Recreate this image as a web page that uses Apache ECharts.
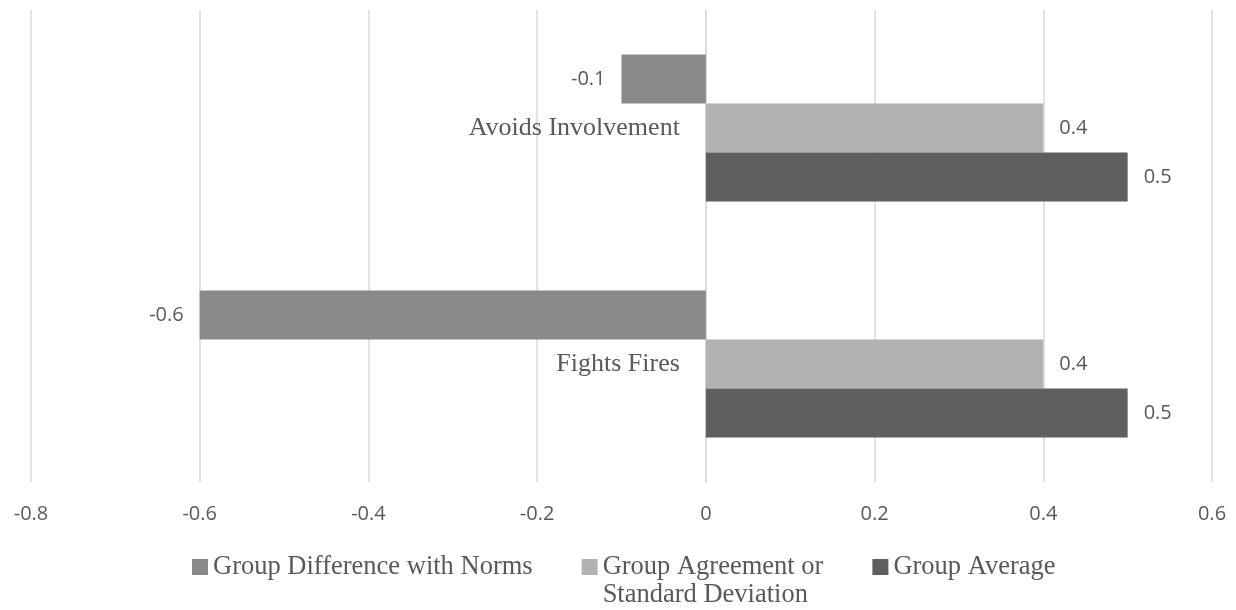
<!DOCTYPE html>
<html>
<head>
<meta charset="utf-8">
<script src="https://cdn.jsdelivr.net/npm/echarts@6/dist/echarts.min.js"></script>
<style>
  html, body { margin: 0; padding: 0; background: #ffffff; }
  #chart { width: 1236px; height: 610px; }
</style>
</head>
<body>
<div id="chart"></div>
<script>
// Categories (bottom to top on the y axis)
const categories = ['Fights Fires', 'Avoids Involvement'];

// Series values, one per category
const groupDifference = [-0.6, -0.1];
const groupAgreement = [0.4, 0.4];
const groupAverage = [0.5, 0.5];

// Series names
const seriesNames = [
  'Group Difference with Norms',
  'Group Agreement or Standard Deviation',
  'Group Average'
];

// Value axis range
const axisMin = -0.8;
const axisMax = 0.6;
const axisStep = 0.2;

const serif = '"Liberation Serif", "Times New Roman", serif';
const sans = '"Open Sans", "Noto Sans", sans-serif';
const textGrey = '#595959';
const gridGrey = '#d9d9d9';
const gridLeft = 31;

function makeBar(name, values, color, side) {
  return {
    name: name,
    type: 'bar',
    data: values,
    barWidth: 49,
    barGap: '0%',
    itemStyle: { color: color },
    label: {
      show: true,
      position: side,
      distance: 16,
      color: textGrey,
      fontFamily: sans,
      fontSize: 20,
      formatter: function (p) { return String(p.value); }
    }
  };
}

// Wrap the long legend entry after "or"; a leading blank line keeps the
// first text line level with the legend swatch.
function legendText(name) {
  return name.indexOf(' or ') >= 0 ? '\n' + name.replace(' or ', ' or\n') : name;
}

const chart = echarts.init(document.getElementById('chart'), null, { renderer: 'canvas' });

chart.setOption({
  animation: false,
  backgroundColor: '#ffffff',
  grid: { left: gridLeft, right: 24, top: 10, bottom: 128, containLabel: false, outerBoundsMode: 'none' },
  xAxis: {
    type: 'value',
    min: axisMin,
    max: axisMax,
    interval: axisStep,
    axisLine: { show: false },
    axisTick: { show: false },
    axisLabel: {
      color: textGrey,
      fontFamily: sans,
      fontSize: 20,
      margin: 22,
      formatter: function (v) { return String(Math.round(v * 10) / 10); }
    },
    splitLine: { show: true, lineStyle: { color: gridGrey, width: 1.5 } }
  },
  yAxis: {
    type: 'category',
    data: categories,
    axisLine: { show: true, onZero: false, lineStyle: { color: gridGrey, width: 1.5 } },
    axisTick: { show: false },
    splitLine: { show: false },
    axisLabel: {
      color: textGrey,
      fontFamily: serif,
      fontSize: 26,
      margin: 26
    }
  },
  legend: {
    top: 520,
    left: 187,
    itemWidth: 16,
    itemHeight: 16,
    itemGap: 49,
    icon: 'rect',
    textStyle: { color: textGrey, fontFamily: serif, fontSize: 26.5, lineHeight: 28 },
    formatter: legendText,
    data: seriesNames
  },
  series: [
    makeBar(seriesNames[0], groupDifference, '#898989', 'left'),
    makeBar(seriesNames[1], groupAgreement, '#b2b2b2', 'right'),
    makeBar(seriesNames[2], groupAverage, '#5f5f5f', 'right')
  ]
});

// Move the category axis (line and labels) onto the x = 0 position of the value axis
const zeroX = chart.convertToPixel({ xAxisIndex: 0 }, 0);
chart.setOption({ yAxis: { offset: gridLeft - zeroX } });
</script>
</body>
</html>
